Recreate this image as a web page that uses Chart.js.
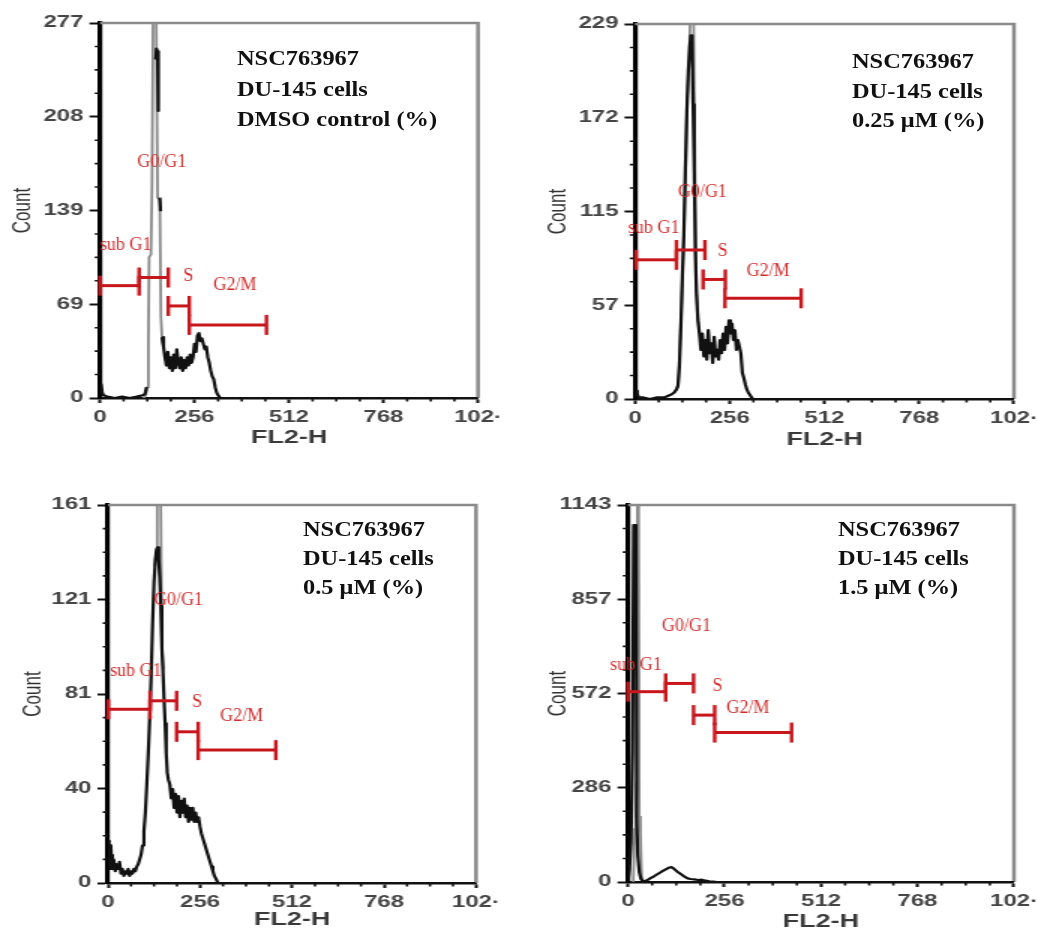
<!DOCTYPE html>
<html><head><meta charset="utf-8">
<script src="https://cdn.jsdelivr.net/npm/chart.js@4.4.1/dist/chart.umd.min.js"></script>
<style>
html,body{margin:0;padding:0;background:#fff;width:1037px;height:930px;overflow:hidden;position:relative;}
.wrap{position:absolute;transform-origin:0 0;}
.note{position:absolute;font-family:'Liberation Serif','Times New Roman',serif;font-weight:bold;font-size:20px;color:#111;white-space:nowrap;transform-origin:0 0;transform:scaleX(1.22);}
</style></head><body>
<script>
// ---------- DATA ----------
const xTickValues = [0, 256, 512, 768, 1024];
const xTickLabels = ['0', '256', '512', '768', '102·'];
const gateNames = ['sub G1', 'G0/G1', 'S', 'G2/M'];
const noteLine1 = 'NSC763967';
const noteLine2 = 'DU-145 cells';

// Panel 1: DMSO control
const p1Note = 'DMSO control (%)';
const p1YMax = 277;
const p1YTicks = ['0', '69', '139', '208', '277'];
const p1Channels = [0,3,6,10,20,40,60,80,100,115,122,126,127,151,153,156,158,159,162,164,165,168,172,176,180,184,188,192,196,200,204,208,212,216,220,224,228,232,236,240,244,248,252,256,260,264,268,272,276,280,284,288,292,296,300,304,308,312,316,320,326,1024];
const p1Counts   = [3,10,4,2,1,0,1,0,1,2,3,8,null,250,258,256,212,null,148,138,null,45,38,30,24,34,22,30,20,32,22,36,26,22,30,20,28,22,30,24,32,26,30,40,34,46,48,42,44,40,36,38,30,26,20,16,14,8,4,2,0,0];
const p1PeakChannels = [118,124,128,131,133,138,141,144,152,156,162,165,168,172];
const p1PeakCounts   = [0,2,8,40,104,106,160,290,290,148,146,60,45,38];
const p1GateStart = [0, 106, 185, 242];
const p1GateEnd   = [106, 185, 242, 451];
const p1GateLevel = [83, 89, 68, 54];
const p1LabelX = [0, 101, 226, 307];
const p1LabelY = [113, 174, 90, 83];

// Panel 2: 0.25 uM
const p2Note = '0.25 μM (%)';
const p2YMax = 229;
const p2YTicks = ['0', '57', '115', '172', '229'];
const p2Channels = [0,3,6,10,20,40,60,80,90,100,106,112,116,120,124,128,132,136,140,144,148,151,154,157,160,163,166,170,174,178,182,186,190,194,198,202,206,210,214,218,222,226,230,234,238,242,246,250,254,258,262,266,270,274,278,282,286,290,294,298,302,306,312,318,1024];
const p2Counts   = [2,5,3,1,1,0,1,1,2,3,4,6,8,20,45,75,100,140,175,200,215,222,222,180,140,90,65,48,40,30,40,26,36,24,42,28,34,22,38,26,30,24,36,28,40,30,44,34,48,40,46,36,42,30,36,32,28,16,13,9,6,4,2,0,0];
const p2PeakChannels = [112,117,121,126,132,137,141,146,150,158,162,166,170,175];
const p2PeakCounts   = [5,9,30,60,100,142,183,205,240,240,142,66,50,40];
const p2GateStart = [3, 112, 184, 243];
const p2GateEnd   = [112, 189, 244, 449];
const p2GateLevel = [85, 91, 73, 61.5];
const p2LabelX = [-19, 116, 224, 302];
const p2LabelY = [104, 126, 90, 78];

// Panel 3: 0.5 uM
const p3Note = '0.5 μM (%)';
const p3YMax = 161;
const p3YTicks = ['0', '40', '81', '121', '161'];
const p3Channels = [0,2,4,6,8,10,12,14,16,20,24,28,32,36,40,44,48,52,56,60,64,68,72,76,80,84,88,92,96,100,104,108,112,116,120,124,128,132,135,138,141,144,147,150,153,156,159,162,165,168,172,176,180,184,188,192,196,200,204,208,212,216,220,224,228,232,236,240,244,248,252,256,260,264,268,272,276,280,284,288,292,296,300,306,1024];
const p3Counts   = [18,8,14,6,16,8,12,6,10,5,8,6,9,4,6,3,5,4,6,3,5,4,6,5,7,8,10,12,16,22,30,42,55,70,88,110,128,138,142,143,138,130,118,100,90,78,68,55,47,44,42,36,40,32,38,30,37,28,35,30,36,28,33,26,32,27,32,26,30,26,28,24,21,19,17,15,13,11,9,7,5,3,2,0,0];
const p3PeakChannels = [130,134,137,146,150,154];
const p3PeakCounts   = [135,140,175,175,100,91];
const p3GateStart = [1, 117, 191, 251];
const p3GateEnd   = [117, 191, 251, 467];
const p3GateLevel = [74, 77.6, 64.4, 56.6];
const p3LabelX = [6, 128, 234, 312];
const p3LabelY = [90, 120.5, 77, 71];

// Panel 4: 1.5 uM
const p4Note = '1.5 μM (%)';
const p4YMax = 1143;
const p4YTicks = ['0', '286', '572', '857', '1143'];
const p4Channels = [0,4,8,12,15,21,23,26,30,34,38,44,52,60,70,80,90,100,110,116,122,130,140,150,158,166,176,186,196,206,216,226,236,1024];
const p4Counts   = [0,40,120,400,1082,1082,200,80,30,10,4,2,6,12,18,25,32,38,44,45,40,32,24,16,11,9,8,6,7,4,2,1,0,0];
const p4PeakChannels = [14,18,21,23,25,28,30,33,36,40];
const p4PeakCounts   = [0,160,200,300,1250,1250,200,150,20,4];
const p4GateStart = [0, 100, 174, 230];
const p4GateEnd   = [100, 174, 230, 434];
const p4GateLevel = [577, 602, 506, 453];
const p4LabelX = [-47, 90, 224, 261];
const p4LabelY = [658, 774, 592, 528];

// ---------- LAYOUT ----------
const S = 1.5; // the figure is horizontally stretched
const RED = '#c8161d';
const RED_TXT = '#d02828';
const SANS = "'Liberation Sans', Arial, sans-serif";
Chart.defaults.font.family = SANS;

const panels = [
  {id:1, L:0,   T:0,   W:525, H:465, area:[100,478,23,398], countX:23, titleY:438,
   note:{left:237, top:43, lh:30.5}, yMax:p1YMax, yTicks:p1YTicks, ch:p1Channels, ct:p1Counts, pc:p1PeakChannels, pk:p1PeakCounts,
   gs:p1GateStart, ge:p1GateEnd, gl:p1GateLevel, lx:p1LabelX, ly:p1LabelY, text:p1Note},
  {id:2, L:525, T:0,   W:520, H:465, area:[635,1016,24,399], countX:558, titleY:440,
   note:{left:852, top:47, lh:29.5}, yMax:p2YMax, yTicks:p2YTicks, ch:p2Channels, ct:p2Counts, pc:p2PeakChannels, pk:p2PeakCounts,
   gs:p2GateStart, ge:p2GateEnd, gl:p2GateLevel, lx:p2LabelX, ly:p2LabelY, text:p2Note},
  {id:3, L:0,   T:468, W:525, H:472, area:[108,476,505,883], countX:34, titleY:920,
   note:{left:303, top:515, lh:29}, yMax:p3YMax, yTicks:p3YTicks, ch:p3Channels, ct:p3Counts, pc:p3PeakChannels, pk:p3PeakCounts,
   gs:p3GateStart, ge:p3GateEnd, gl:p3GateLevel, lx:p3LabelX, ly:p3LabelY, text:p3Note},
  {id:4, L:525, T:468, W:520, H:472, area:[628,1016,505,882], countX:558, titleY:922,
   note:{left:838, top:515, lh:29}, yMax:p4YMax, yTicks:p4YTicks, ch:p4Channels, ct:p4Counts, pc:p4PeakChannels, pk:p4PeakCounts,
   gs:p4GateStart, ge:p4GateEnd, gl:p4GateLevel, lx:p4LabelX, ly:p4LabelY, text:p4Note}
];

function overlay(p) {
  return {
    id: 'overlay' + p.id,
    beforeDatasetsDraw(chart) {
      const {ctx, chartArea: a, scales: {x, y}} = chart;
      ctx.save();
      ctx.strokeStyle = '#8a8a8a';
      ctx.lineWidth = 2.5;
      ctx.beginPath();
      ctx.moveTo(a.left, a.top); ctx.lineTo(a.right, a.top); ctx.lineTo(a.right, a.bottom);
      ctx.stroke();
      ctx.strokeStyle = '#111';
      ctx.lineWidth = 1.6;
      ctx.beginPath();
      for (let k = 1; k < 16; k++) {
        if (k % 4 === 0) continue;
        const py = y.getPixelForValue(p.yMax * k / 16);
        ctx.moveTo(a.left - 3.5, py); ctx.lineTo(a.left, py);
      }
      for (let c = 64; c < 1024; c += 64) {
        if (c % 256 === 0) continue;
        const px = x.getPixelForValue(c);
        ctx.moveTo(px, a.bottom); ctx.lineTo(px, a.bottom + 3.5);
      }
      ctx.stroke();
      ctx.restore();
    },
    afterDraw(chart) {
      const {ctx, scales: {x, y}} = chart;
      ctx.save();
      ctx.font = "18px 'Liberation Serif', 'Times New Roman', serif";
      ctx.fillStyle = RED_TXT;
      ctx.textBaseline = 'middle';
      ctx.textAlign = 'left';
      gateNames.forEach((t, i) => {
        const px = x.getPixelForValue(p.lx[i]);
        const py = y.getPixelForValue(p.ly[i]);
        ctx.save();
        ctx.translate(px, py);
        ctx.scale(1 / S, 1);
        ctx.fillText(t, 0, 0);
        ctx.restore();
      });
      ctx.restore();
    }
  };
}

function build(p) {
  const W0 = Math.round(p.W / S);
  const countFont = {family: SANS, size: 17, lineHeight: 1.2};
  const flFont = {family: SANS, size: 18, weight: 'bold', lineHeight: 1.2};
  const padLeft = (p.countX - p.L) / S - countFont.size * countFont.lineHeight / 2;
  const yWidth = (p.area[0] - p.L) / S - padLeft;
  const padRight = W0 - (p.area[1] - p.L) / S;
  const padTop = p.area[2] - p.T;
  const xHeight = p.T + p.H - p.area[3];
  const titlePadBottom = p.T + p.H - p.titleY - flFont.size * flFont.lineHeight / 2;

  const wrap = document.createElement('div');
  wrap.className = 'wrap';
  wrap.style.left = p.L + 'px';
  wrap.style.top = p.T + 'px';
  wrap.style.width = W0 + 'px';
  wrap.style.height = p.H + 'px';
  wrap.style.transform = 'scaleX(' + S + ')';
  const cv = document.createElement('canvas');
  cv.width = W0; cv.height = p.H;
  cv.style.width = W0 + 'px'; cv.style.height = p.H + 'px';
  wrap.appendChild(cv);
  document.body.appendChild(wrap);

  const yTickValues = p.yTicks.map((_, i) => p.yMax * i / 4);
  const datasets = [];
  p.gs.forEach((g, i) => {
    datasets.push({
      data: [{x: g, y: p.gl[i]}, {x: p.ge[i], y: p.gl[i]}],
      borderColor: RED, borderWidth: 3,
      pointStyle: 'line', pointRotation: 90, pointRadius: 10,
      pointBorderWidth: 2.4, pointBorderColor: RED, pointBackgroundColor: RED,
      clip: false, order: 0
    });
  });
  datasets.push({
    data: p.ch.map((c, i) => ({x: c, y: p.ct[i]})),
    borderColor: '#111', borderWidth: 2.2, pointRadius: 0, borderJoinStyle: 'round',
    spanGaps: false, clip: 0, order: 1
  });
  datasets.push({
    data: p.pc.map((c, i) => ({x: c, y: p.pk[i]})),
    borderColor: '#8a8a8a', borderWidth: 1.8, pointRadius: 0,
    clip: 0, order: 2
  });

  new Chart(cv, {
    type: 'line',
    data: {datasets},
    options: {
      responsive: false, animation: false, events: [],
      layout: {padding: {left: padLeft, right: padRight, top: padTop, bottom: 0}},
      plugins: {legend: {display: false}, tooltip: {enabled: false}},
      scales: {
        x: {
          type: 'linear', min: 0, max: 1024,
          afterBuildTicks: s => { s.ticks = xTickValues.map(v => ({value: v})); },
          afterFit: s => { s.height = xHeight; },
          ticks: {autoSkip: false, maxRotation: 0, minRotation: 0, padding: 5, color: '#454545',
                  font: {size: 16, weight: 'bold'}, callback: (v, i) => xTickLabels[i]},
          grid: {drawOnChartArea: false, tickLength: 5, tickColor: '#111', tickWidth: 2},
          border: {color: '#111', width: 2.5},
          title: {display: true, text: 'FL2-H', color: '#3a3a3a', font: flFont,
                  padding: {top: 0, bottom: titlePadBottom}}
        },
        y: {
          type: 'linear', min: 0, max: p.yMax,
          afterBuildTicks: s => { s.ticks = yTickValues.map(v => ({value: v})); },
          afterFit: s => { s.width = yWidth; },
          ticks: {autoSkip: false, padding: 4, color: '#454545',
                  font: {size: 16, weight: 'bold'}, callback: (v, i) => p.yTicks[i]},
          grid: {drawOnChartArea: false, tickLength: 7, tickColor: '#111', tickWidth: 2},
          border: {color: '#000', width: 3.2},
          title: {display: true, text: 'Count', color: '#333', font: countFont, padding: 0}
        }
      }
    },
    plugins: [overlay(p)]
  });

  const note = document.createElement('div');
  note.className = 'note';
  note.style.left = p.note.left + 'px';
  note.style.top = p.note.top + 'px';
  note.style.lineHeight = p.note.lh + 'px';
  [noteLine1, noteLine2, p.text].forEach(t => {
    const d = document.createElement('div');
    d.textContent = t;
    note.appendChild(d);
  });
  document.body.appendChild(note);
}

panels.forEach(build);
</script>
</body></html>
